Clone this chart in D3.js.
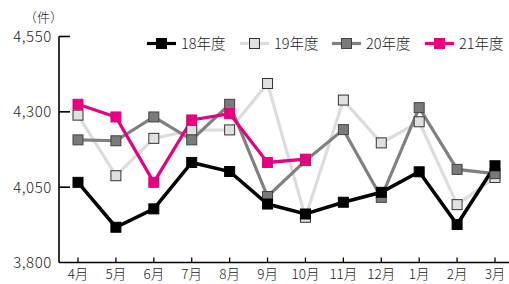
<!DOCTYPE html>
<html>
<head>
<meta charset="utf-8">
<script src="https://cdn.jsdelivr.net/npm/d3@7"></script>
<style>
  body { margin: 0; background: #fff; }
  svg text { font-family: "Noto Sans CJK JP", "Noto Sans", sans-serif; font-weight: 300; fill: #222; }
</style>
</head>
<body>
<div id="chart"></div>
<script>
// months and series values (件)
const months = ['4月', '5月', '6月', '7月', '8月', '9月', '10月', '11月', '12月', '1月', '2月', '3月'];
const fy18 = [4066, 3917, 3978, 4132, 4102, 3994, 3961, 4000, 4033, 4101, 3926, 4121];
const fy19 = [4289, 4088, 4212, 4239, 4240, 4394, 3950, 4339, 4197, 4267, 3992, 4082];
const fy20 = [4207, 4204, 4283, 4207, 4325, 4019, 4138, 4241, 4016, 4314, 4109, 4095];
const fy21 = [4325, 4283, 4066, 4273, 4294, 4132, 4143];
const yTicks = [3800, 4050, 4300, 4550];

const series = [
    { name: '19年度', values: fy19, line: '#dcdcdc', fill: '#e0e0e0', stroke: '#333' },
    { name: '20年度', values: fy20, line: '#808080', fill: '#7a7a7a', stroke: '#444' },
    { name: '21年度', values: fy21, line: '#e4007f', fill: '#e4007f', stroke: '#e4007f' },
    { name: '18年度', values: fy18, line: '#000', fill: '#000', stroke: '#000' }
];
const legendOrder = ['18年度', '19年度', '20年度', '21年度'];

const width = 509, height = 284;
const svg = d3.select('#chart').append('svg')
    .attr('width', width)
    .attr('height', height);

// scales
const x = d3.scalePoint().domain(months).range([78, 495]);
const y = d3.scaleLinear().domain([3800, 4550]).range([262.5, 36.5]);
const left = 59;

// y axis
svg.append('line')
    .attr('x1', left).attr('x2', left)
    .attr('y1', y(4550)).attr('y2', y(3800))
    .attr('stroke', '#000').attr('stroke-width', 1.6);
svg.selectAll('.ytick')
    .data(yTicks.filter(d => d > 3800))
    .enter().append('line')
    .attr('x1', left).attr('x2', left + 11)
    .attr('y1', d => y(d)).attr('y2', d => y(d))
    .attr('stroke', '#000').attr('stroke-width', 1.6);
svg.selectAll('.ylabel')
    .data(yTicks)
    .enter().append('text')
    .attr('x', 52)
    .attr('y', d => y(d))
    .attr('dy', '0.36em')
    .attr('text-anchor', 'end')
    .style('font-size', '15px')
    .style('letter-spacing', '0.6px')
    .text(d => d3.format(',')(d));

svg.append('text')
    .attr('x', 24).attr('y', 22)
    .style('font-size', '13px')
    .text('（件）');

// x axis
svg.append('line')
    .attr('x1', left).attr('x2', 509)
    .attr('y1', y(3800)).attr('y2', y(3800))
    .attr('stroke', '#000').attr('stroke-width', 1.6);
svg.selectAll('.xtick')
    .data(months)
    .enter().append('line')
    .attr('x1', d => x(d)).attr('x2', d => x(d))
    .attr('y1', y(3800)).attr('y2', y(3800) - 5)
    .attr('stroke', '#000').attr('stroke-width', 1.3);
svg.selectAll('.xlabel')
    .data(months)
    .enter().append('text')
    .attr('x', d => x(d))
    .attr('y', 279)
    .attr('text-anchor', 'middle')
    .style('font-size', '13.5px')
    .text(d => d);

// lines
const line = d3.line()
    .x((d, i) => x(months[i]))
    .y(d => y(d));

series.forEach(s => {
    svg.append('path')
        .datum(s.values)
        .attr('d', line)
        .attr('fill', 'none')
        .attr('stroke', s.line)
        .attr('stroke-width', s.name === '18年度' ? 3.5 : 3.2)
        .attr('stroke-linejoin', 'miter');
});

// markers
series.forEach(s => {
    svg.selectAll(null)
        .data(s.values)
        .enter().append('rect')
        .attr('x', (d, i) => x(months[i]) - 5)
        .attr('y', d => y(d) - 5)
        .attr('width', 10).attr('height', 10)
        .attr('fill', s.fill)
        .attr('stroke', s.stroke)
        .attr('stroke-width', 1);
});

// legend
const legendX = [147, 240, 332, 425];
const ly = 43.5;
legendOrder.forEach((name, i) => {
    const s = series.find(d => d.name === name);
    const g = svg.append('g').attr('transform', `translate(${legendX[i]},${ly})`);
    g.append('line')
        .attr('x1', 0).attr('x2', 29)
        .attr('stroke', s.line).attr('stroke-width', 3.2);
    g.append('rect')
        .attr('x', 9.5).attr('y', -5)
        .attr('width', 10).attr('height', 10)
        .attr('fill', s.fill).attr('stroke', s.stroke).attr('stroke-width', 1);
    g.append('text')
        .attr('x', 34).attr('dy', '0.36em')
        .style('font-size', '14.5px')
        .text(name);
});
</script>
</body>
</html>
